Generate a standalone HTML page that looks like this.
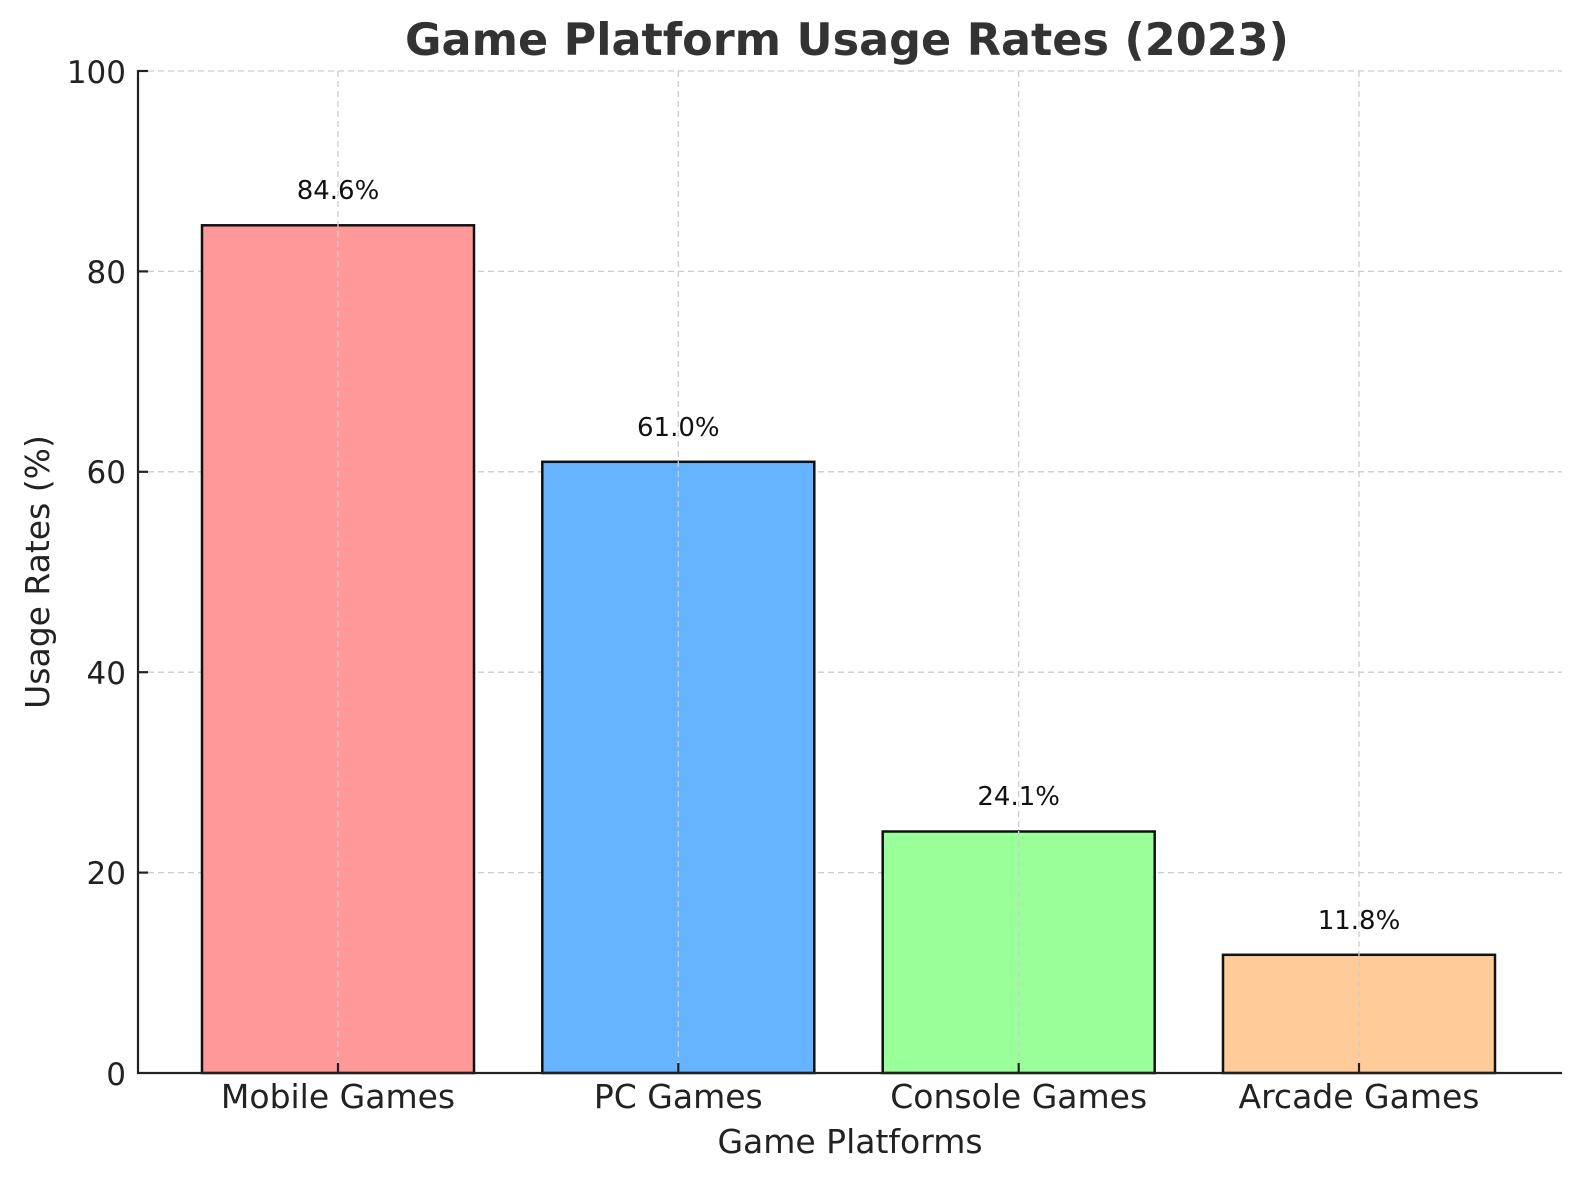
<!DOCTYPE html>
<html><head><meta charset="utf-8"><style>
html,body{margin:0;padding:0;background:#fff;}
svg{display:block;font-family:"DejaVu Sans","Liberation Sans",sans-serif;}
</style></head><body>
<svg width="1580" height="1180" viewBox="0 0 1580 1180" xmlns="http://www.w3.org/2000/svg">
<rect width="1580" height="1180" fill="#fff"/>
<g stroke="#cccccc" stroke-width="1.3" stroke-dasharray="6,4">
<line x1="138" x2="1562" y1="71" y2="71"/>
<line x1="138" x2="1562" y1="271.4" y2="271.4"/>
<line x1="138" x2="1562" y1="471.8" y2="471.8"/>
<line x1="138" x2="1562" y1="672.2" y2="672.2"/>
<line x1="138" x2="1562" y1="872.6" y2="872.6"/>
</g>
<g stroke="#111" stroke-width="2.5">
<rect x="202" y="225.3" width="272" height="847.7" fill="#ff9999"/>
<rect x="542.3" y="461.8" width="272" height="611.2" fill="#66b3ff"/>
<rect x="882.7" y="831.5" width="272" height="241.5" fill="#99ff99"/>
<rect x="1223" y="954.8" width="272" height="118.2" fill="#ffcc99"/>
</g>
<g stroke="#cccccc" stroke-width="1.3" stroke-dasharray="6,4">
<line x1="338" x2="338" y1="71" y2="1073"/>
<line x1="678.3" x2="678.3" y1="71" y2="1073"/>
<line x1="1018.7" x2="1018.7" y1="71" y2="1073"/>
<line x1="1359" x2="1359" y1="71" y2="1073"/>
</g>
<g stroke="#222" stroke-width="2.2">
<line x1="138" x2="138" y1="70" y2="1074"/>
<line x1="137" x2="1562" y1="1073" y2="1073"/>
<line x1="138" x2="148" y1="71" y2="71"/>
<line x1="138" x2="148" y1="271.4" y2="271.4"/>
<line x1="138" x2="148" y1="471.8" y2="471.8"/>
<line x1="138" x2="148" y1="672.2" y2="672.2"/>
<line x1="138" x2="148" y1="872.6" y2="872.6"/>
<line x1="338" x2="338" y1="1063" y2="1073"/>
<line x1="678.3" x2="678.3" y1="1063" y2="1073"/>
<line x1="1018.7" x2="1018.7" y1="1063" y2="1073"/>
<line x1="1359" x2="1359" y1="1063" y2="1073"/>
</g>
<g font-size="31" fill="#222" text-anchor="end">
<text x="126" y="83">100</text>
<text x="126" y="283">80</text>
<text x="126" y="483">60</text>
<text x="126" y="684">40</text>
<text x="126" y="884">20</text>
<text x="126" y="1085">0</text>
</g>
<g font-size="33" fill="#222" text-anchor="middle">
<text x="338" y="1108">Mobile Games</text>
<text x="678.3" y="1108">PC Games</text>
<text x="1018.7" y="1108">Console Games</text>
<text x="1359" y="1108">Arcade Games</text>
</g>
<g font-size="33" fill="#222" text-anchor="middle">
<text x="850" y="1153">Game Platforms</text>
<text transform="translate(49,572) rotate(-90)">Usage Rates (%)</text>
</g>
<g font-size="26" fill="#111" text-anchor="middle">
<text x="338" y="199">84.6%</text>
<text x="678.3" y="436">61.0%</text>
<text x="1018.7" y="805">24.1%</text>
<text x="1359" y="929">11.8%</text>
</g>
<text x="847" y="55" font-size="44.5" font-weight="bold" fill="#333" text-anchor="middle">Game Platform Usage Rates (2023)</text>
</svg>
</body></html>
